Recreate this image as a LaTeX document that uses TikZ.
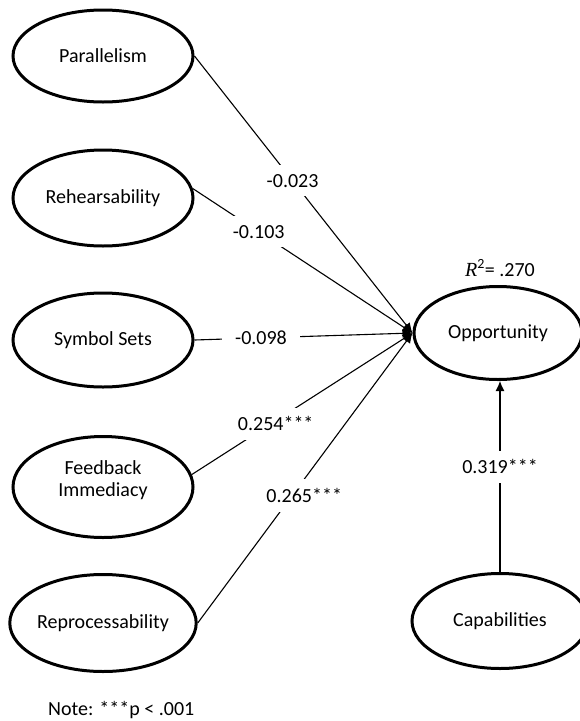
\documentclass[tikz,border=0pt]{standalone}
\usepackage{fontspec}
\setmainfont{Carlito}
\newfontfamily\rsquarefont{Liberation Serif}
\usetikzlibrary{shapes.geometric,arrows.meta}

\tikzset{
  construct/.style={ellipse, draw=black, line width=3pt, inner sep=0pt,
    font=\fontsize{20}{22}\selectfont, align=center},
  path coef/.style={line width=1.1pt, -{Latex[length=10pt,width=9pt]}},
  coef/.style={fill=white, inner xsep=13pt, inner ysep=9pt, font=\fontsize{20}{22}\selectfont},
  plain text/.style={inner sep=0pt, font=\fontsize{20}{22}\selectfont}
}

\begin{document}
\begin{tikzpicture}[x=1pt, y=-1pt]
  \useasboundingbox (0,0) rectangle (580,721);

  % exogenous constructs
  \node[construct, minimum width=180pt, minimum height=92pt] (par) at (103,56) {Parallelism};
  \node[construct, minimum width=180pt, minimum height=96pt] (reh) at (103,198) {Rehearsability};
  \node[construct, minimum width=180pt, minimum height=94pt] (sym) at (103,340) {Symbol Sets};
  \node[construct, minimum width=180pt, minimum height=101pt,
        label={[align=center, yshift=7pt, font=\fontsize{20}{22}\selectfont]center:Feedback\\Immediacy}] (fb) at (103,487) {};
  \node[construct, minimum width=180pt, minimum height=97pt] (rep) at (103,623) {Reprocessability};

  % endogenous constructs
  \node[construct, minimum width=168pt, minimum height=93pt] (opp) at (498,333) {Opportunity};
  \node[construct, minimum width=176pt, minimum height=95pt] (cap) at (500,621) {Capabilities};

  \node[plain text] (r2) at (500,268) {{\rsquarefont\itshape R}\textsuperscript{2}= .270};

  % structural paths
  \draw[path coef] (par.east) -- node[coef, pos=0.45] {-0.023} (opp.west);
  \draw[path coef] (reh.6) -- node[coef, pos=0.30] {-0.103} (opp.west);
  \draw[path coef] (sym.east) -- node[coef, pos=0.305] {-0.098} (opp.west);
  \draw[path coef] (fb.8) -- node[coef, pos=0.38, yshift=-3pt] {0.254***} (opp.west);
  \draw[path coef] (rep.east) -- node[coef, pos=0.44, xshift=12pt] {0.265***} (opp.west);
  \draw[path coef] (cap.north) -- node[coef, pos=0.55] {0.319***} (cap.north |- opp.south);

  \node[plain text, anchor=west] (note) at (48,710) {Note: ***p {\textless} .001};
\end{tikzpicture}
\end{document}
